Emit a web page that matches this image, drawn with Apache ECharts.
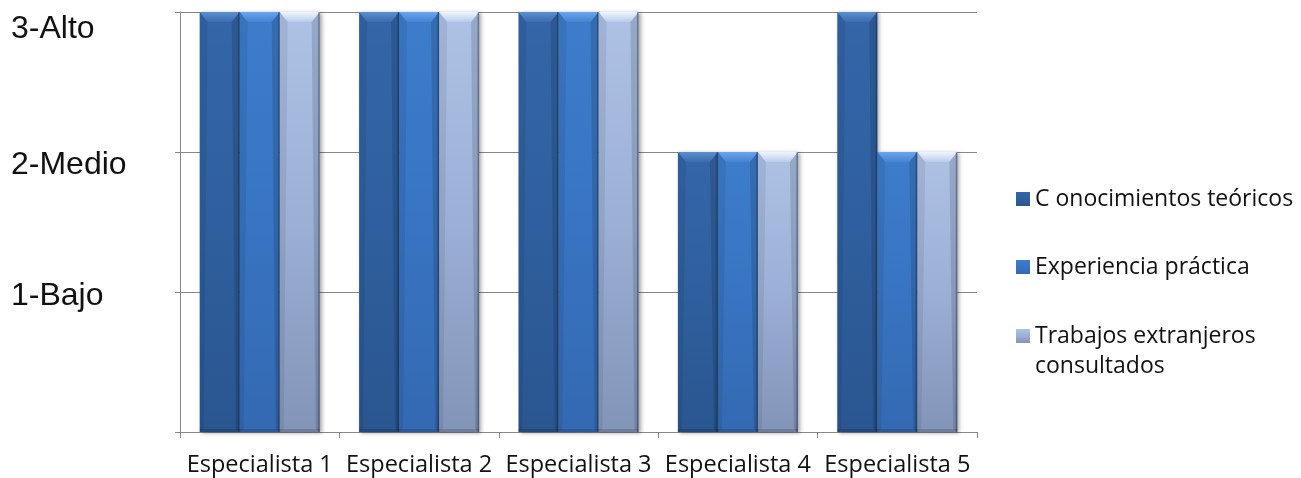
<!DOCTYPE html>
<html>
<head>
<meta charset="utf-8">
<script src="https://cdn.jsdelivr.net/npm/echarts@6/dist/echarts.min.js"></script>
<style>
  html, body { margin: 0; padding: 0; background: #ffffff; }
  #chart { width: 1301px; height: 478px; }
</style>
</head>
<body>
<div id="chart"></div>
<script>
// Rating scale shown on the value axis
const levelLabels = { 1: '1-Bajo', 2: '2-Medio', 3: '3-Alto' };

const categories = ['Especialista 1', 'Especialista 2', 'Especialista 3', 'Especialista 4', 'Especialista 5'];

const seriesNames = ['C onocimientos teóricos', 'Experiencia práctica', 'Trabajos extranjeros\nconsultados'];

const conocimientos = [3, 3, 3, 2, 3];
const experiencia = [3, 3, 3, 2, 2];
const trabajos = [3, 3, 3, 2, 2];

const gridColor = '#878787';
const textFont = 'Open Sans';
const BAR_W = 40;

function vGrad(stops) {
  return {
    type: 'linear', x: 0, y: 0, x2: 0, y2: 1,
    colorStops: stops.map(function (s) { return { offset: s[0], color: s[1] }; })
  };
}

// body fill of each bar
const fills = [
  vGrad([[0, '#3466a8'], [0.5, '#2f5f9e'], [1, '#2a5690']]),
  vGrad([[0, '#3d7dcc'], [0.5, '#3874c2'], [1, '#3469b2']]),
  vGrad([[0, '#aec2e6'], [0.5, '#9cafd4'], [1, '#8294b8']])
];

// bevelled top face of each bar
const capFills = [
  vGrad([[0, '#5a8fd0'], [1, '#3a6cae']]),
  vGrad([[0, '#6aa5ee'], [1, '#4582d0']]),
  vGrad([[0, '#eef5ff'], [1, '#b9cbeb']])
];

const dataSets = [conocimientos, experiencia, trabajos];

const chart = echarts.init(document.getElementById('chart'), null, { renderer: 'canvas' });

const series = [];
dataSets.forEach(function (values, i) {
  series.push({
    name: seriesNames[i],
    type: 'bar',
    data: values,
    barWidth: BAR_W,
    barGap: '0%',
    itemStyle: {
      color: fills[i],
      shadowColor: 'rgba(0,0,0,0.35)',
      shadowBlur: 4,
      shadowOffsetX: 2,
      shadowOffsetY: 1
    },
    emphasis: { disabled: true }
  });
});

// bevel shading drawn over the bars, placed with the same axes
dataSets.forEach(function (values, i) {
  series.push({
    type: 'custom',
    silent: true,
    z: 5,
    encode: { x: 0, y: 1 },
    data: values.map(function (v, j) { return [j, v]; }),
    renderItem: function (params, api) {
      const top = api.coord([api.value(0), api.value(1)]);
      const base = api.coord([api.value(0), 0]);
      const cx = top[0] + (i - 1) * BAR_W;
      const x0 = cx - BAR_W / 2, x1 = cx + BAR_W / 2;
      const yT = top[1], yB = base[1];
      return {
        type: 'group',
        children: [
          {
            type: 'polygon',
            shape: { points: [[x0, yT], [x1, yT], [x1 - 8, yT + 10], [x0 + 8, yT + 10]] },
            style: { fill: capFills[i] }
          },
          {
            type: 'polygon',
            shape: { points: [[x0, yT], [x0 + 8, yT + 10], [x0 + 4, yB - 3], [x0, yB]] },
            style: { fill: 'rgba(0,0,0,0.07)' }
          },
          {
            type: 'polygon',
            shape: { points: [[x1, yT], [x1 - 8, yT + 10], [x1 - 4, yB - 3], [x1, yB]] },
            style: { fill: 'rgba(0,0,0,0.13)' }
          },
          {
            type: 'rect',
            shape: { x: x0, y: yB - 3, width: BAR_W, height: 3 },
            style: { fill: 'rgba(0,0,0,0.15)' }
          },
          {
            type: 'rect',
            shape: { x: x1 - 1.5, y: yT, width: 1.5, height: yB - yT },
            style: { fill: 'rgba(10,25,50,0.35)' }
          }
        ]
      };
    }
  });
});

const legendText = {
  fontFamily: textFont,
  fontSize: 23,
  lineHeight: 30,
  color: '#111111'
};

chart.setOption({
  animation: false,
  backgroundColor: '#ffffff',
  grid: { left: 180, right: 324, top: 12, bottom: 46, containLabel: false },
  legend: [
    {
      orient: 'vertical',
      left: 1016,
      top: 184,
      padding: 0,
      itemGap: 38,
      itemWidth: 14,
      itemHeight: 14,
      icon: 'rect',
      selectedMode: false,
      data: [seriesNames[0], seriesNames[1]],
      textStyle: legendText
    },
    {
      // leading blank line keeps the marker beside the first text line
      orient: 'vertical',
      left: 1016,
      top: 291,
      padding: 0,
      itemWidth: 14,
      itemHeight: 14,
      icon: 'rect',
      selectedMode: false,
      data: [seriesNames[2]],
      formatter: function (name) { return '\u00a0\n' + name; },
      textStyle: legendText
    }
  ],
  xAxis: {
    type: 'category',
    data: categories,
    boundaryGap: true,
    axisLine: { show: true, lineStyle: { color: gridColor, width: 1 } },
    axisTick: { show: true, length: 6, alignWithLabel: false, lineStyle: { color: gridColor } },
    axisLabel: {
      margin: 21,
      fontFamily: textFont,
      fontSize: 23.5,
      color: '#111111',
      interval: 0
    },
    splitLine: { show: false }
  },
  yAxis: {
    type: 'value',
    min: 0,
    max: 3,
    interval: 1,
    axisLine: { show: true, lineStyle: { color: gridColor, width: 1 } },
    axisTick: { show: true, length: 5, lineStyle: { color: gridColor } },
    splitLine: { show: true, lineStyle: { color: gridColor, width: 1 } },
    axisLabel: {
      margin: 169,
      align: 'left',
      fontFamily: 'Liberation Sans',
      fontSize: 32,
      color: '#111111',
      formatter: function (v) {
        const t = levelLabels[v];
        return t ? '{l' + v + '|' + t + '}' : '';
      },
      rich: {
        l1: { fontFamily: 'Liberation Sans', fontSize: 32, color: '#111111', padding: [8, 0, 0, 0] },
        l2: { fontFamily: 'Liberation Sans', fontSize: 32, color: '#111111', padding: [26, 0, 0, 0] },
        l3: { fontFamily: 'Liberation Sans', fontSize: 32, color: '#111111', padding: [34, 0, 0, 0] }
      }
    }
  },
  series: series
});
</script>
</body>
</html>
